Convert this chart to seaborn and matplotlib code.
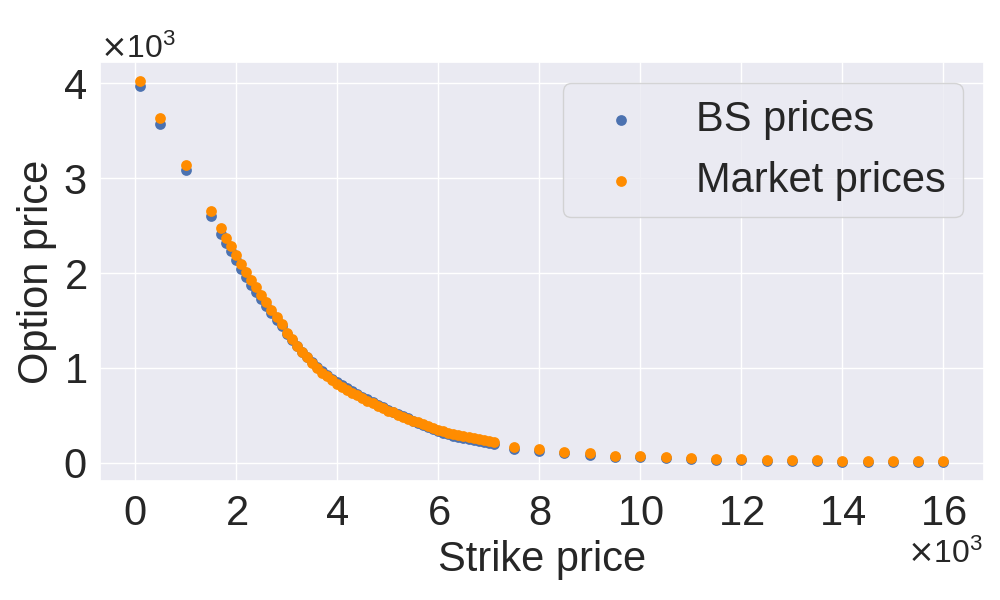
import matplotlib
matplotlib.use("Agg")
import matplotlib.pyplot as plt
import matplotlib.ticker as mticker
import seaborn as sns

sns.set(style="darkgrid")
plt.rcParams['font.family'] = ['Liberation Sans', 'DejaVu Sans']

# strike prices
strikes = [100, 500, 1000, 1500,
           1700, 1800, 1900, 2000, 2100, 2200, 2300, 2400, 2500, 2600,
           2700, 2800, 2900, 3000, 3100, 3200, 3300, 3400, 3500, 3600,
           3700, 3800, 3900, 4000, 4100, 4200, 4300, 4400, 4500, 4600,
           4700, 4800, 4900, 5000, 5100, 5200, 5300, 5400, 5500, 5600,
           5700, 5800, 5900, 6000, 6100, 6200, 6300, 6400, 6500, 6600,
           6700, 6800, 6900, 7000, 7100,
           7500, 8000, 8500, 9000, 9500, 10000, 10500, 11000, 11500,
           12000, 12500, 13000, 13500, 14000, 14500, 15000, 15500, 16000]

# Black-Scholes model prices
bs_prices = [3970, 3570, 3090, 2600,
             2410, 2320, 2230, 2135, 2045, 1955, 1875, 1795, 1725, 1650,
             1580, 1510, 1445, 1360, 1290, 1230, 1170, 1115, 1060, 1010,
             963, 922, 884, 850, 815, 785, 755, 725, 695, 668,
             638, 612, 586, 560, 538, 512, 490, 468, 445, 423,
             400, 378, 356, 334, 317, 300, 284, 272, 260, 249,
             238, 228, 218, 209, 200,
             148, 124, 100, 84, 63, 56, 47, 38, 31,
             26, 21, 18, 14, 12, 10, 8, 7, 6]

# observed market prices
market_prices = [4020, 3630, 3140, 2650,
                 2470, 2370, 2280, 2190, 2100, 2010, 1930, 1850, 1770, 1690,
                 1615, 1540, 1465, 1370, 1300, 1235, 1170, 1110, 1055, 1000,
                 950, 910, 870, 835, 800, 770, 740, 710, 680, 655,
                 625, 600, 575, 550, 530, 505, 485, 465, 445, 425,
                 405, 385, 365, 345, 330, 315, 300, 290, 280, 270,
                 260, 250, 240, 230, 220,
                 162, 141, 113, 100, 74, 67, 57, 47, 36,
                 36, 25, 25, 25, 15, 15, 15, 15, 15]

fig = plt.figure(figsize=(10, 6), dpi=100)
ax = fig.add_subplot(111)
fig.subplots_adjust(left=0.1, right=0.9835, top=0.896, bottom=0.198)

sns.scatterplot(x=strikes, y=bs_prices, color='#4C72B0', s=60, linewidth=0,
                label='BS prices', ax=ax)
sns.scatterplot(x=strikes, y=market_prices, color='darkorange', s=60, linewidth=0,
                label='Market prices', ax=ax)

ax.xaxis.set_major_locator(mticker.MultipleLocator(2000))
ax.yaxis.set_major_locator(mticker.MultipleLocator(1000))
ax.ticklabel_format(style='sci', axis='both', scilimits=(3, 3), useMathText=True)
ax.tick_params(axis='both', labelsize=30)
ax.xaxis.get_offset_text().set_fontsize(23)
ax.yaxis.get_offset_text().set_fontsize(23)
ax.set_xlabel('Strike price', fontsize=30)
ax.set_ylabel('Option price', fontsize=30)
ax.legend(fontsize=30, loc='upper right')

plt.savefig('out.png', dpi=100)
